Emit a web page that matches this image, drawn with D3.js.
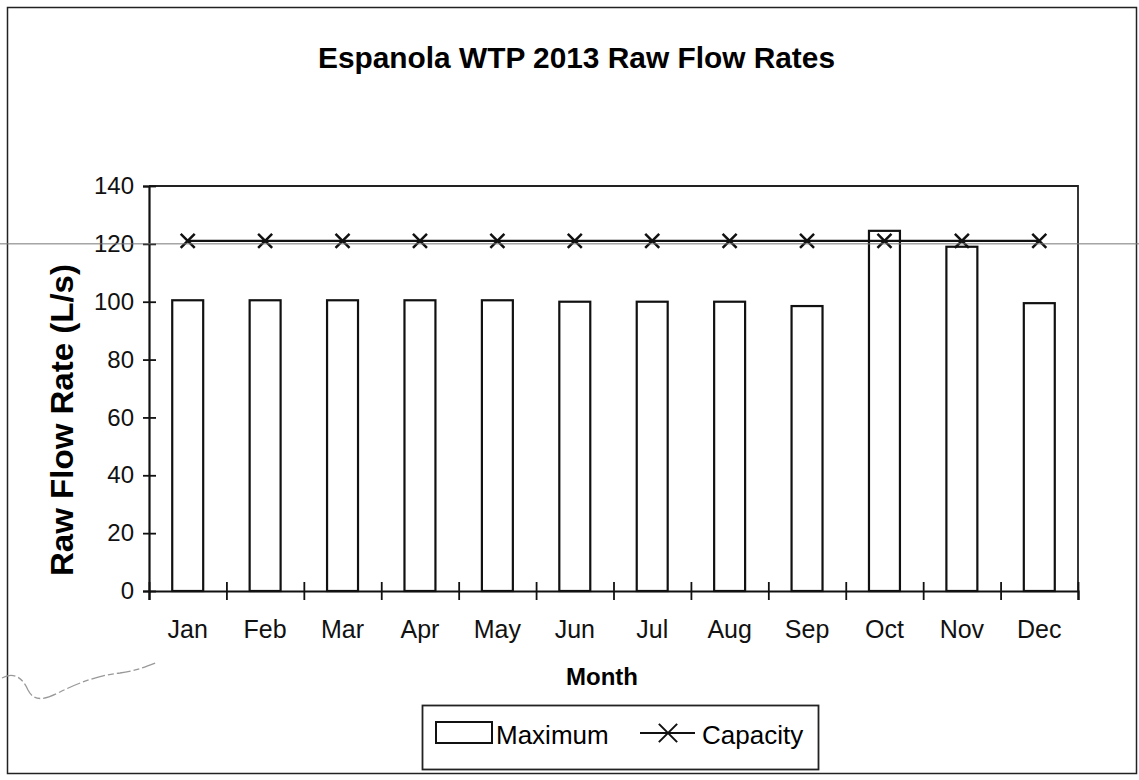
<!DOCTYPE html>
<html>
<head>
<meta charset="utf-8">
<script src="https://cdn.jsdelivr.net/npm/d3@7"></script>
<style>
  body { margin: 0; background: #fff; }
  svg { display: block; font-family: Arial, "Liberation Sans", sans-serif; }
</style>
</head>
<body>
<div id="chart"></div>
<script>
// data
var months = ["Jan", "Feb", "Mar", "Apr", "May", "Jun", "Jul", "Aug", "Sep", "Oct", "Nov", "Dec"];
var maximum = [100.5, 100.5, 100.5, 100.5, 100.5, 100, 100, 100, 98.5, 124.5, 119, 99.5];
var capacity = [121, 121, 121, 121, 121, 121, 121, 121, 121, 121, 121, 121];
var yTicks = [0, 20, 40, 60, 80, 100, 120, 140];

var W = 1139, H = 780;
var margin = {top: 186, right: 61, bottom: 189, left: 149},
    width = W - margin.left - margin.right,
    height = H - margin.top - margin.bottom;

var svg = d3.select("#chart")
  .append("svg")
  .attr("width", W)
  .attr("height", H);

// outer frame of the page
svg.append("rect")
  .attr("x", 7.5).attr("y", 7.5)
  .attr("width", W - 10).attr("height", 766)
  .attr("fill", "none")
  .attr("stroke", "#222")
  .attr("stroke-width", 1.5);

// title
svg.append("text")
  .attr("x", 318).attr("y", 68)
  .attr("textLength", 517)
  .attr("lengthAdjust", "spacingAndGlyphs")
  .style("font-size", "30px")
  .style("font-weight", "bold")
  .text("Espanola WTP 2013 Raw Flow Rates");

var g = svg.append("g")
  .attr("transform", "translate(" + margin.left + "," + margin.top + ")");

var x = d3.scaleBand()
  .domain(months)
  .range([0, width])
  .paddingInner(0.6)
  .paddingOuter(0.3);

var xEdge = d3.scaleLinear()
  .domain([0, months.length])
  .range([0, width]);

var y = d3.scaleLinear()
  .domain([0, 140])
  .range([height, 0]);

// faint line through the whole page at 120 (from the scan)
svg.append("line")
  .attr("x1", 0).attr("x2", W)
  .attr("y1", margin.top + y(120)).attr("y2", margin.top + y(120))
  .attr("stroke", "#777")
  .attr("stroke-width", 1);

// scribble bottom left of the scan
svg.append("path")
  .attr("d", "M2,678C12,672 22,676 28,690C34,702 44,700 60,692C80,682 100,675 120,673C135,671 145,667 158,662")
  .attr("fill", "none")
  .attr("stroke", "#999")
  .attr("stroke-width", 1.3)
  .attr("stroke-dasharray", "14,3,6,3");

// plot area border (top + right)
g.append("path")
  .attr("d", "M0,0H" + width + "V" + height)
  .attr("fill", "none")
  .attr("stroke", "#222")
  .attr("stroke-width", 1.8);

// bars
g.selectAll(".bar")
  .data(maximum)
  .enter()
  .append("rect")
  .attr("class", "bar")
  .attr("x", function(d, i) { return x(months[i]); })
  .attr("width", x.bandwidth())
  .attr("y", function(d) { return y(d); })
  .attr("height", function(d) { return height - y(d); })
  .attr("fill", "#fff")
  .attr("stroke", "#111")
  .attr("stroke-width", 2.2);

// Y axis
var yAxis = g.append("g")
  .call(d3.axisLeft(y).tickValues(yTicks).tickSize(6).tickPadding(9));
yAxis.select(".domain").attr("stroke", "#111").attr("stroke-width", 2.2);
yAxis.selectAll(".tick line").attr("x1", -6).attr("x2", 7).attr("stroke", "#111").attr("stroke-width", 1.8);
yAxis.selectAll(".tick text")
  .style("font-size", "24px")
  .attr("fill", "#111");

// X axis: line + ticks between the months
var xAxis = g.append("g")
  .attr("transform", "translate(0," + height + ")")
  .call(d3.axisBottom(xEdge).tickValues(d3.range(months.length + 1)).tickSize(9).tickFormat(""));
xAxis.select(".domain").attr("stroke", "#111").attr("stroke-width", 2.2);
xAxis.selectAll(".tick line").attr("y1", -9).attr("y2", 9).attr("stroke", "#111").attr("stroke-width", 1.8);

// month labels
var xLabels = g.append("g")
  .attr("transform", "translate(0," + height + ")")
  .call(d3.axisBottom(x).tickSize(0).tickPadding(29));
xLabels.select(".domain").remove();
xLabels.selectAll(".tick text")
  .style("font-size", "25px")
  .attr("fill", "#111");

// capacity line
var line = d3.line()
  .x(function(d, i) { return x(months[i]) + x.bandwidth() / 2; })
  .y(function(d) { return y(d); });

g.append("path")
  .datum(capacity)
  .attr("d", line)
  .attr("fill", "none")
  .attr("stroke", "#111")
  .attr("stroke-width", 2.2);

var cross = d3.symbol().type(d3.symbolX).size(130);
g.selectAll(".mark")
  .data(capacity)
  .enter()
  .append("path")
  .attr("class", "mark")
  .attr("transform", function(d, i) {
    return "translate(" + (x(months[i]) + x.bandwidth() / 2) + "," + y(d) + ")";
  })
  .attr("d", cross)
  .attr("fill", "none")
  .attr("stroke", "#111")
  .attr("stroke-width", 2.5);

// axis titles
svg.append("text")
  .attr("x", 602).attr("y", 685)
  .attr("text-anchor", "middle")
  .style("font-size", "24px")
  .style("font-weight", "bold")
  .text("Month");

svg.append("text")
  .attr("transform", "translate(73,420)rotate(-90)")
  .attr("text-anchor", "middle")
  .attr("textLength", 312)
  .attr("lengthAdjust", "spacingAndGlyphs")
  .style("font-size", "31px")
  .style("font-weight", "bold")
  .text("Raw Flow Rate (L/s)");

// legend
var legend = svg.append("g");
legend.append("rect")
  .attr("x", 422.5).attr("y", 705.5)
  .attr("width", 396).attr("height", 64)
  .attr("fill", "#fff")
  .attr("stroke", "#222")
  .attr("stroke-width", 1.8);
legend.append("rect")
  .attr("x", 436).attr("y", 722)
  .attr("width", 56).attr("height", 21)
  .attr("fill", "#fff")
  .attr("stroke", "#111")
  .attr("stroke-width", 2);
legend.append("text")
  .attr("x", 496).attr("y", 744)
  .style("font-size", "26px")
  .text("Maximum");
legend.append("line")
  .attr("x1", 640).attr("x2", 695)
  .attr("y1", 733).attr("y2", 733)
  .attr("stroke", "#111")
  .attr("stroke-width", 1.8);
legend.append("path")
  .attr("transform", "translate(668,733)")
  .attr("d", d3.symbol().type(d3.symbolX).size(220))
  .attr("fill", "none")
  .attr("stroke", "#111")
  .attr("stroke-width", 2);
legend.append("text")
  .attr("x", 702).attr("y", 744)
  .style("font-size", "26px")
  .text("Capacity");
</script>
</body>
</html>
